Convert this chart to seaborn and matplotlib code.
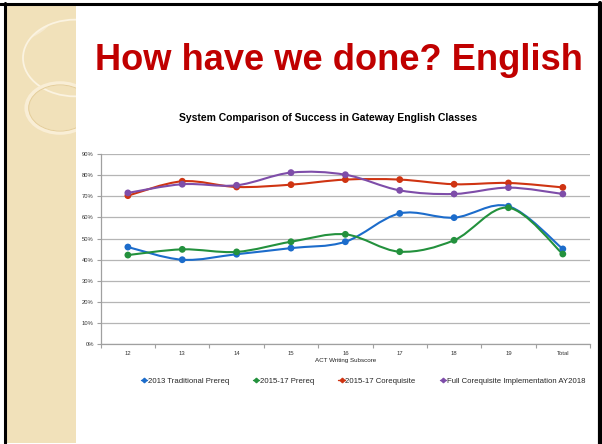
import numpy as np
import pandas as pd
import matplotlib
matplotlib.use("Agg")
import matplotlib.pyplot as plt
import seaborn as sns
from matplotlib.path import Path
from matplotlib.patches import PathPatch, Rectangle, Circle
from matplotlib.lines import Line2D

categories = ["12", "13", "14", "15", "16", "17", "18", "19", "Total"]
trad_2013 = [46.0, 40.0, 42.6, 45.5, 48.5, 61.9, 59.9, 65.3, 45.1]
prereq_1517 = [42.2, 44.9, 43.7, 48.5, 52.0, 43.8, 49.2, 64.6, 42.7]
coreq_1517 = [70.3, 77.1, 74.4, 75.5, 77.9, 77.9, 75.7, 76.3, 74.2]
full_coreq_2018 = [71.6, 75.7, 75.2, 81.2, 80.2, 72.8, 71.1, 74.1, 71.1]
series_names = ["2013 Traditional Prereq", "2015-17 Prereq", "2015-17 Corequisite",
                "Full Corequisite Implementation AY2018"]
series_values = [trad_2013, prereq_1517, coreq_1517, full_coreq_2018]
colors = ["#1C6CCB", "#23913D", "#CF3412", "#7E4DA9"]
y_ticks = [0, 10, 20, 30, 40, 50, 60, 70, 80, 90]

rows = []
for name, vals in zip(series_names, series_values):
    for i, (c, v) in enumerate(zip(categories, vals)):
        rows.append({"series": name, "x": i, "cat": c, "value": v / 100})
df = pd.DataFrame(rows)

sns.set_theme(style="white")
plt.rcParams["font.family"] = ["Liberation Sans", "DejaVu Sans"]

fig = plt.figure(figsize=(6.02, 4.44), dpi=100)
fig.patch.set_facecolor("white")

# slide decoration
W, H = 602, 444
def fx(px): return px / W
def fy(py): return 1 - py / H
strip = Rectangle((fx(4), fy(443)), fx(76) - fx(4), fy(4) - fy(443),
                  transform=fig.transFigure, facecolor="#F1E1BA", edgecolor="none", zorder=0)
fig.patches.append(strip)
big = Circle((fx(75), fy(58)), 52 / W, transform=fig.transFigure,
             facecolor="none", edgecolor="#FBF3E1", lw=1.3, zorder=0.5)
lens = Circle((fx(0), fy(0)), 60 / W, transform=fig.transFigure,
              facecolor="#F6EAD0", edgecolor="none", zorder=0.4)
ring_o = Circle((fx(60), fy(108)), 33.5 / W, transform=fig.transFigure,
                facecolor="none", edgecolor="#F9EED6", lw=3.0, zorder=0.6)
ring_i = Circle((fx(60), fy(108)), 31.3 / W, transform=fig.transFigure,
                facecolor="none", edgecolor="#E4CD9A", lw=0.7, zorder=0.7)
for p in [big, lens, ring_o, ring_i]:
    fig.patches.append(p)
for p in [big, ring_o, ring_i]:
    p.set_clip_path(strip)
lens.set_clip_path(big.get_path(), big.get_transform())
# frame
fig.add_artist(Line2D([fx(0), fx(602)], [fy(4), fy(4)], transform=fig.transFigure, color="black", lw=2.2))
fig.add_artist(Line2D([fx(4.5), fx(4.5)], [fy(3), fy(443)], transform=fig.transFigure, color="black", lw=2.2))
fig.add_artist(Line2D([fx(599.5), fx(599.5)], [fy(3), fy(444)], transform=fig.transFigure, color="black", lw=3))

fig.text(fx(339), fy(60), "How have we done? English", color="#C00000", fontsize=26.1,
         fontweight="bold", ha="center", va="center")
fig.text(fx(328), fy(118), "System Comparison of Success in Gateway English Classes",
         color="black", fontsize=7.5, fontweight="bold", ha="center", va="center")

ax = fig.add_axes([fx(100.7), fy(344.3), fx(590) - fx(100.7), fy(154) - fy(344.3)])
ax.set_facecolor("none")

def smooth_path(xs, ys):
    pts = np.column_stack([xs, ys])
    n = len(pts)
    verts = [pts[0]]
    codes = [Path.MOVETO]
    for i in range(n - 1):
        p0 = pts[max(i - 1, 0)]
        p1 = pts[i]
        p2 = pts[i + 1]
        p3 = pts[min(i + 2, n - 1)]
        c1 = p1 + (p2 - p0) / 6
        c2 = p2 - (p3 - p1) / 6
        verts += [c1, c2, p2]
        codes += [Path.CURVE4] * 3
    return Path(verts, codes)

for name, col in zip(series_names, colors):
    sub = df[df.series == name]
    ax.add_patch(PathPatch(smooth_path(sub.x.values, sub.value.values), facecolor="none",
                           edgecolor=col, lw=1.5, zorder=3))

sns.scatterplot(data=df, x="x", y="value", hue="series", palette=colors, s=24,
                edgecolor="none", legend=False, ax=ax, zorder=4)

ax.set_xlim(-0.5, len(categories) - 0.5)
ax.set_ylim(0, 0.9)
ax.set_yticks([t / 100 for t in y_ticks])
ax.set_yticklabels([f"{t}%" for t in y_ticks])
ax.set_xticks(range(len(categories)))
ax.set_xticklabels(categories)
ax.set_xticks(np.arange(-0.5, len(categories)), minor=True)
ax.grid(axis="y", color="#B5B5B5", lw=0.9)
ax.grid(axis="x", visible=False)
for s in ["top", "right"]:
    ax.spines[s].set_visible(False)
for s in ["left", "bottom"]:
    ax.spines[s].set_visible(True)
    ax.spines[s].set_color("#A0A0A0")
    ax.spines[s].set_linewidth(0.9)
ax.tick_params(axis="x", which="major", length=0, labelsize=4.2, colors="#333333", pad=5)
ax.tick_params(axis="x", which="minor", length=3, color="#A0A0A0", width=0.8, bottom=True)
ax.tick_params(axis="y", which="major", length=3, color="#A0A0A0", width=0.8, left=True,
               labelsize=4.2, labelcolor="#333333", pad=2)
ax.set_xlabel("ACT Writing Subscore", fontsize=4.5, color="#222222", labelpad=1)
ax.set_ylabel("")

handles = [Line2D([], [], color=c, lw=1.0, marker="D", markersize=2.3) for c in colors]
fig.legend(handles, series_names, loc="center", bbox_to_anchor=(fx(363), fy(381)),
           ncol=4, frameon=False, fontsize=5.6, handlelength=0.8, handletextpad=0.1,
           columnspacing=3.1)

fig.savefig("out.png", dpi=100, facecolor="white")
